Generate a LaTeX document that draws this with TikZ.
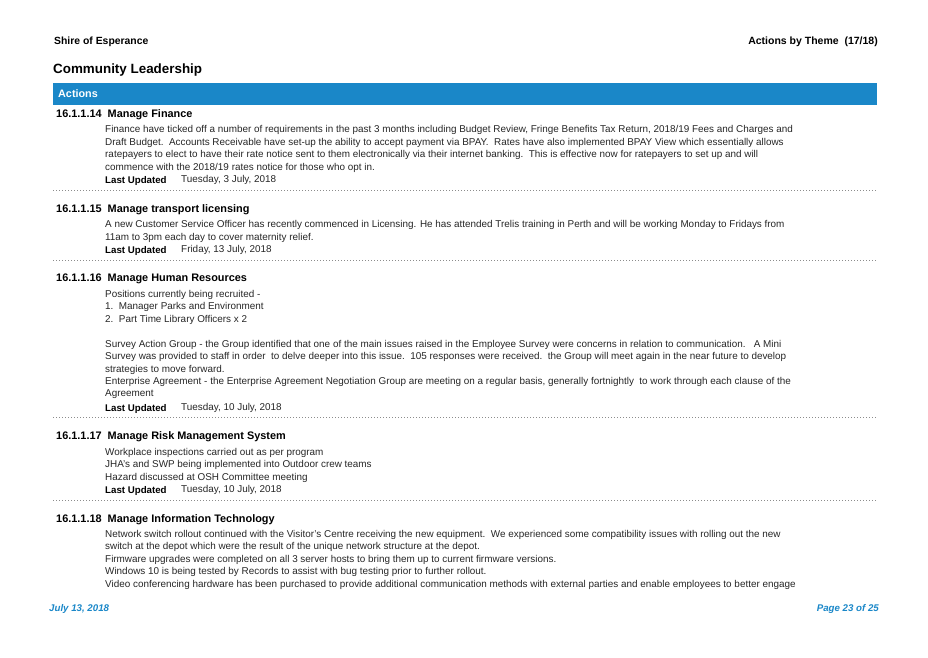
\documentclass[tikz,border=0pt]{standalone}
\usepackage{fontspec}
\setmainfont{Liberation Sans}
\definecolor{barblue}{HTML}{1A87C8}
\definecolor{foot}{HTML}{1A87C8}
\begin{document}
\begin{tikzpicture}[x=1pt,y=-1pt,
  t/.style={anchor=west,inner sep=0pt,font=\fontsize{9.9}{11}\selectfont,text=black!85},
  h/.style={anchor=west,inner sep=0pt,font=\fontsize{10.9}{12}\selectfont\bfseries},
  lu/.style={anchor=west,inner sep=0pt,font=\fontsize{9.7}{11}\selectfont\bfseries},
  sep/.style={draw=black!45,line width=0.5pt,dash pattern=on 0.6pt off 2.4pt}]
\useasboundingbox (0,0) rectangle (928,657);
\node[h,font=\fontsize{10.4}{12}\selectfont\bfseries] (shire) at (54,42) {Shire of Esperance};
\node[h,anchor=east,font=\fontsize{10.5}{12}\selectfont\bfseries] (theme) at (878,42) {Actions by Theme\ \ (17/18)};
\node[h,font=\fontsize{13.4}{15}\selectfont\bfseries] (title) at (53,70) {Community Leadership};
\fill[barblue] (53,83) rectangle (877,105);
\node[h,text=white,font=\fontsize{10.8}{12}\selectfont\bfseries] (act) at (58,93.5) {Actions};
% 14
\node[h] (h14) at (56,115) {16.1.1.14\ \ Manage Finance};
\node[t] (a1) at (105,130) {Finance have ticked off a number of requirements in the past 3 months including Budget Review, Fringe Benefits Tax Return, 2018/19 Fees and Charges and};
\node[t] (a2) at (105,142.5) {Draft Budget.\ \ Accounts Receivable have set-up the ability to accept payment via BPAY.\ \ Rates have also implemented BPAY View which essentially allows};
\node[t] (a3) at (105,155) {ratepayers to elect to have their rate notice sent to them electronically via their internet banking.\ \ This is effective now for ratepayers to set up and will};
\node[t] (a4) at (105,167.5) {commence with the 2018/19 rates notice for those who opt in.};
\node[lu] (l14) at (105,181) {Last Updated};
\node[t] (d14) at (181,180) {Tuesday, 3 July, 2018};
\draw[sep] (53,190) -- (877,190);
% 15
\node[h] (h15) at (56,210) {16.1.1.15\ \ Manage transport licensing};
\node[t] (b1) at (105,225) {A new Customer Service Officer has recently commenced in Licensing. He has attended Trelis training in Perth and will be working Monday to Fridays from};
\node[t] (b2) at (105,237.5) {11am to 3pm each day to cover maternity relief.};
\node[lu] (l15) at (105,251) {Last Updated};
\node[t] (d15) at (181,250) {Friday, 13 July, 2018};
\draw[sep] (53,260) -- (877,260);
% 16
\node[h] (h16) at (56,279) {16.1.1.16\ \ Manage Human Resources};
\node[t] (c1) at (105,294.5) {Positions currently being recruited -};
\node[t] (c2) at (105,307) {1.\ \ Manager Parks and Environment};
\node[t] (c3) at (105,319.5) {2.\ \ Part Time Library Officers x 2};
\node[t] (c4) at (105,344.5) {Survey Action Group - the Group identified that one of the main issues raised in the Employee Survey were concerns in relation to communication.\ \ \ A Mini};
\node[t] (c5) at (105,357) {Survey was provided to staff in order\ \ to delve deeper into this issue.\ \ 105 responses were received.\ \ the Group will meet again in the near future to develop};
\node[t] (c6) at (105,369.5) {strategies to move forward.};
\node[t] (c7) at (105,382) {Enterprise Agreement - the Enterprise Agreement Negotiation Group are meeting on a regular basis, generally fortnightly\ \ to work through each clause of the};
\node[t] (c8) at (105,394.5) {Agreement};
\node[lu] (l16) at (105,408.5) {Last Updated};
\node[t] (d16) at (181,407.5) {Tuesday, 10 July, 2018};
\draw[sep] (53,417) -- (877,417);
% 17
\node[h] (h17) at (56,437) {16.1.1.17\ \ Manage Risk Management System};
\node[t] (e1) at (105,452.5) {Workplace inspections carried out as per program};
\node[t] (e2) at (105,465) {JHA's and SWP being implemented into Outdoor crew teams};
\node[t] (e3) at (105,477.5) {Hazard discussed at OSH Committee meeting};
\node[lu] (l17) at (105,491) {Last Updated};
\node[t] (d17) at (181,490) {Tuesday, 10 July, 2018};
\draw[sep] (53,500) -- (877,500);
% 18
\node[h] (h18) at (56,519.5) {16.1.1.18\ \ Manage Information Technology};
\node[t] (f1) at (105,534.5) {Network switch rollout continued with the Visitor's Centre receiving the new equipment.\ \ We experienced some compatibility issues with rolling out the new};
\node[t] (f2) at (105,547) {switch at the depot which were the result of the unique network structure at the depot.};
\node[t] (f3) at (105,559.5) {Firmware upgrades were completed on all 3 server hosts to bring them up to current firmware versions.};
\node[t] (f4) at (105,572) {Windows 10 is being tested by Records to assist with bug testing prior to further rollout.};
\node[t] (f5) at (105,584.5) {Video conferencing hardware has been purchased to provide additional communication methods with external parties and enable employees to better engage};
% footer
\node[h,text=foot,font=\fontsize{9.7}{11}\selectfont\bfseries\itshape] (date) at (49,609) {July 13, 2018};
\node[h,anchor=east,text=foot,font=\fontsize{9.7}{11}\selectfont\bfseries\itshape] (page) at (879,609) {Page 23 of 25};
\end{tikzpicture}
\end{document}
